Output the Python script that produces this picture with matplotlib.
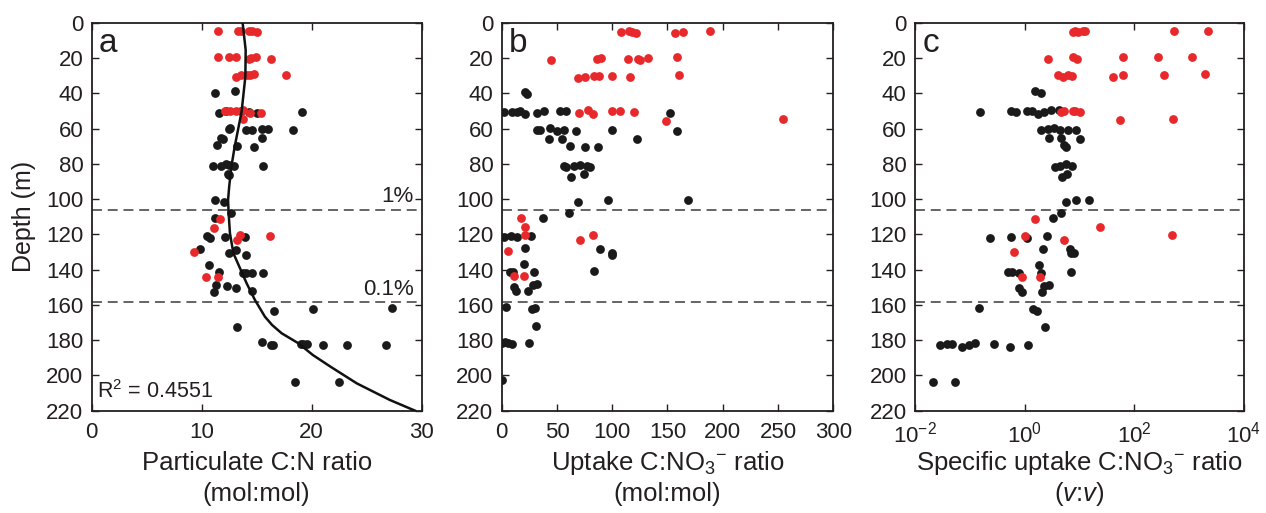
"""
Depth profiles of particulate C:N, uptake C:NO3- and specific uptake C:NO3-.
Three panels (a-c), red = euphotic samples, black = deeper samples.
"""

import matplotlib

matplotlib.use("Agg")
import matplotlib.pyplot as plt
import numpy as np

plt.rcParams["font.family"] = ["Liberation Sans", "DejaVu Sans"]
plt.rcParams["mathtext.fontset"] = "custom"
plt.rcParams["mathtext.rm"] = "Liberation Sans"
plt.rcParams["mathtext.it"] = "Liberation Sans:italic"
plt.rcParams["mathtext.sf"] = "Liberation Sans"

RED = "#e8292b"
BLACK = "#1a1a1a"
INK = "#231f20"

# --- panel a: particulate C:N -------------------------------------------------
a_black_x = [11.2, 13.0,
             11.6, 12.2, 13.6, 14.3, 15.0, 19.1,
             12.5, 12.6, 14.0, 14.6, 15.5, 16.0, 18.3,
             11.75, 11.9, 11.4, 13.2, 14.75, 15.5,
             11.0, 11.75, 12.2, 12.5, 12.9, 15.6, 12.4, 12.5,
             11.2, 12.0,
             12.7, 11.2, 10.45, 10.8, 12.1, 13.96,
             9.85, 12.5, 13.1, 14.0, 10.7, 11.6,
             13.8, 14.0, 14.6, 15.6,
             11.3, 11.1, 12.3, 13.1, 14.6,
             16.6, 20.1, 27.3, 13.2,
             15.5, 16.3, 16.5, 19.0, 19.2, 19.6, 21.0, 23.2, 26.8,
             18.45, 22.45]
a_black_z = [39.7, 38.7,
             51.4, 50.0, 50.0, 50.5, 51.0, 50.8,
             60.4, 59.5, 61.0, 61.0, 60.5, 60.5, 61.0,
             65.4, 65.8, 69.5, 70.0, 70.6, 65.4,
             81.0, 81.0, 80.0, 80.8, 81.0, 81.2, 85.6, 86.3,
             100.7, 101.9,
             108.0, 110.7, 120.9, 122.0, 121.6, 121.5,
             128.3, 130.7, 128.8, 131.8, 137.4, 141.3,
             141.7, 141.7, 141.7, 141.7,
             149.0, 152.8, 149.4, 150.6, 152.4,
             163.4, 162.5, 161.8, 172.7,
             180.8, 182.7, 182.9, 182.4, 182.0, 182.4, 182.7, 182.7, 182.7,
             203.5, 203.5]
a_red_x = [11.5, 13.3, 13.6, 14.3, 14.6, 15.0,
           11.45, 12.45, 13.1, 14.3, 14.5, 14.9, 16.3,
           13.1, 13.6, 14.1, 14.4, 14.75, 17.7,
           12.1, 12.6, 13.1, 13.8, 14.4, 15.4, 13.8,
           11.7, 11.1, 13.45, 13.2, 16.2, 9.33, 10.4, 11.5]
a_red_z = [4.5, 5.0, 5.0, 4.5, 4.8, 5.5,
           19.7, 19.3, 19.5, 20.5, 20.2, 19.2, 20.6,
           30.6, 29.8, 29.8, 29.6, 29.0, 29.6,
           50.1, 49.9, 50.1, 49.6, 51.0, 51.4, 54.8,
           111.3, 116.2, 120.5, 123.2, 120.9, 129.8, 144.0, 144.0]

# fitted curve
fit_z = [0, 15.5, 30.6, 50.4, 70.3, 81.6, 93, 100.5, 108, 119.4, 130.7, 138.3,
         147.8, 157.2, 166.7, 171.4, 176.1, 181.8, 188.4, 195, 204.5, 213.9, 220]
fit_x = [13.72, 14.0, 13.97, 13.63, 13.0, 12.7, 12.5, 12.4, 12.45, 12.57, 12.88, 13.42,
         14.09, 14.84, 15.75, 16.4, 17.27, 18.8, 20.1, 21.7, 24.1, 27.1, 29.4]
R2_TEXT = r"R$^2$ = 0.4551"

# --- panel b: uptake C:NO3- --------------------------------------------------
b_black_x = [21.1, 22.9,
             2.1, 9.0, 13.9, 16.3, 21.1, 31.7, 38.6, 52.8, 57.9, 152.3,
             31.7, 34.7, 43.7, 49.8, 56.4, 67.5, 99.5, 158.6,
             43.1, 54.9, 122.2, 61.8, 75.4, 87.4,
             56.4, 57.9, 65.2, 70.9, 77.2, 80.2, 63.0, 74.8,
             68.8, 95.9, 168.6,
             37.4, 60.6, 2.4, 8.1, 13.9, 26.8,
             21.4, 89.3, 99.5, 100.1, 19.9, 7.5, 10.5, 29.2, 83.3,
             10.9, 13.3, 23.5, 28.6, 31.9,
             3.9, 27.7, 29.8, 30.8,
             0.5, 3.0, 6.0, 9.6, 24.7, 0.5]
b_black_z = [39.5, 40.3,
             50.8, 50.6, 50.8, 50.0, 52.0, 51.0, 49.8, 50.3, 50.0, 51.0,
             60.8, 60.8, 59.7, 61.6, 61.0, 61.4, 60.8, 61.4,
             65.8, 65.8, 66.2, 69.7, 70.3, 70.7,
             81.0, 81.6, 81.0, 80.5, 81.0, 81.6, 87.6, 85.8,
             101.6, 100.5, 100.5,
             110.5, 107.7, 121.4, 121.2, 121.4, 120.7,
             128.0, 128.2, 130.8, 131.6, 136.8, 141.2, 141.4, 141.4, 141.0,
             150.0, 152.1, 152.1, 149.0, 148.1,
             161.2, 162.5, 161.5, 171.8,
             181.8, 181.0, 181.4, 182.3, 181.8, 202.6]
b_red_x = [108.0, 115.5, 117.6, 121.5, 157.0, 163.8, 188.5,
           44.6, 86.5, 89.8, 114.6, 123.6, 124.8, 132.7, 158.9,
           69.3, 75.4, 83.8, 87.8, 99.8, 116.1, 160.2,
           70.0, 78.4, 82.3, 99.5, 106.8, 120.0, 148.4, 254.9,
           17.5, 20.8, 21.4, 6.0, 71.2, 82.6, 10.7, 19.9]
b_red_z = [5.1, 4.8, 5.4, 6.0, 5.8, 5.4, 5.0,
           21.1, 20.6, 19.8, 20.8, 20.8, 21.1, 20.2, 19.6,
           31.3, 30.6, 30.4, 30.1, 30.2, 30.6, 29.5,
           51.0, 49.7, 51.6, 50.3, 50.3, 50.8, 55.6, 54.8,
           110.9, 115.6, 120.5, 129.3, 123.2, 120.4, 143.4, 143.4]

# --- panel c: specific uptake C:NO3- (log axis) -------------------------------
c_black_x = [1.55, 1.95,
             0.155, 0.56, 0.69, 1.10, 1.38, 1.74, 2.29, 3.02, 4.17,
             1.95, 2.69, 3.39, 4.37, 6.31, 8.71,
             2.75, 4.57, 10.2, 5.13, 5.62,
             3.63, 4.37, 5.62, 7.24, 4.90, 6.03,
             5.62, 8.51, 14.8,
             4.68, 3.24,
             0.229, 0.56, 1.12, 2.51,
             2.14, 6.61, 7.08, 7.94,
             1.82, 0.50, 0.59, 0.79, 1.95, 7.08,
             0.79, 0.89, 2.04, 2.29, 2.82,
             0.145, 1.41, 1.66, 2.34,
             0.029, 0.039, 0.048, 0.072, 0.095, 0.126, 0.275, 0.54, 1.15,
             0.021, 0.054]
c_black_z = [38.7, 39.7,
             50.8, 50.3, 50.6, 50.0, 50.3, 51.6, 50.6, 49.4, 49.6,
             60.8, 60.3, 59.7, 60.8, 60.6, 61.0,
             65.6, 65.6, 66.0, 69.4, 70.7,
             81.6, 81.0, 80.0, 81.2, 87.6, 85.8,
             101.6, 100.5, 100.5,
             108.0, 110.5,
             122.0, 121.5, 121.8, 120.9,
             128.3, 128.3, 130.8, 130.8,
             137.4, 141.5, 141.5, 142.0, 141.7, 141.5,
             150.6, 152.5, 152.5, 149.4, 149.0,
             161.7, 162.5, 163.4, 172.7,
             182.7, 182.3, 182.3, 183.6, 182.7, 181.6, 182.0, 183.6, 182.7,
             203.7, 203.5]
c_red_x = [7.6, 8.3, 9.5, 11.7, 12.6, 525, 2190,
           2.69, 7.6, 8.9, 61.7, 275, 1120,
           4.07, 5.0, 6.17, 7.41, 40.7, 63.1, 347, 1950,
           4.57, 5.25, 7.6, 8.3, 10.2, 55, 500,
           1.55, 24, 479, 1.0, 5.25, 0.63, 0.91, 1.91]
c_red_z = [5.1, 4.8, 5.1, 4.8, 4.5, 4.5, 4.5,
           20.6, 19.6, 20.5, 19.3, 19.3, 19.3,
           29.8, 30.6, 29.8, 30.0, 30.8, 29.5, 29.7, 28.9,
           50.8, 49.8, 50.1, 50.3, 50.6, 55.2, 54.6,
           111.3, 116.0, 120.5, 120.9, 123.3, 129.8, 144.0, 144.0]

# light-level isolumes (depth, m)
ISO_1PCT = 106.0
ISO_01PCT = 158.5

DEPTH_TICKS = list(range(0, 221, 20))
X_LABEL_TOP = ["Particulate C:N ratio",
               "Uptake C:NO$_3$$^{-}$ ratio",
               "Specific uptake C:NO$_3$$^{-}$ ratio"]
X_LABEL_BOTTOM = ["(mol:mol)", "(mol:mol)", "($\\mathit{v}$:$\\mathit{v}$)"]
PANEL_LETTERS = ["a", "b", "c"]


def _style(ax, letter, top, bottom):
    ax.set_ylim(220, 0)
    ax.set_yticks(DEPTH_TICKS)
    ax.tick_params(direction="in", top=True, right=True, length=5, width=1.0,
                   labelsize=16, colors=INK)
    ax.tick_params(axis="y", pad=6)
    ax.tick_params(axis="x", pad=8)
    ax.tick_params(which="minor", top=False, bottom=False, left=False, right=False)
    for s in ax.spines.values():
        s.set_linewidth(1.3)
        s.set_color(INK)
    for z in (ISO_1PCT, ISO_01PCT):
        ax.axhline(z, color="#3a3a3a", lw=1.1, dashes=(6.5, 3.8), zorder=1)
    ax.text(0.022, 0.985, letter, transform=ax.transAxes, fontsize=24,
            ha="left", va="top", color=INK)
    # two-line axis label, placed line by line so the baselines line up
    ax.text(0.5, -0.153, top, transform=ax.transAxes, fontsize=18.5,
            ha="center", va="baseline", color=INK)
    ax.text(0.5, -0.232, bottom, transform=ax.transAxes, fontsize=18.5,
            ha="center", va="baseline", color=INK)


def main() -> None:
    fig = plt.figure(figsize=(12.66, 5.13), dpi=100)
    axs = [fig.add_axes([0.0724, 0.1994, 0.2607, 0.7564]),
           fig.add_axes([0.3963, 0.1994, 0.2619, 0.7564]),
           fig.add_axes([0.7227, 0.1994, 0.2599, 0.7564])]

    ms = 40
    # a
    ax = axs[0]
    ax.scatter(a_black_x, a_black_z, s=ms, color=BLACK, lw=0, zorder=3)
    ax.scatter(a_red_x, a_red_z, s=ms, color=RED, lw=0, zorder=4)
    ax.plot(fit_x, fit_z, color="#111111", lw=1.8, zorder=5)
    ax.set_xlim(0, 30)
    ax.set_xticks([0, 10, 20, 30])
    ax.text(0.015, 0.02, R2_TEXT, transform=ax.transAxes, fontsize=15.5,
            ha="left", va="bottom", color=INK)
    ax.text(0.975, ISO_1PCT - 1.5, "1%", transform=ax.get_yaxis_transform(),
            fontsize=16, ha="right", va="bottom", color=INK)
    ax.text(0.975, ISO_01PCT - 1.5, "0.1%", transform=ax.get_yaxis_transform(),
            fontsize=16, ha="right", va="bottom", color=INK)
    ax.set_ylabel("Depth (m)", fontsize=18, labelpad=7, color=INK)

    # b
    ax = axs[1]
    ax.scatter(b_black_x, b_black_z, s=ms, color=BLACK, lw=0, zorder=3)
    ax.scatter(b_red_x, b_red_z, s=ms, color=RED, lw=0, zorder=4)
    ax.set_xlim(0, 300)
    ax.set_xticks([0, 50, 100, 150, 200, 250, 300])

    # c
    ax = axs[2]
    ax.scatter(c_black_x, c_black_z, s=ms, color=BLACK, lw=0, zorder=3)
    ax.scatter(c_red_x, c_red_z, s=ms, color=RED, lw=0, zorder=4)
    ax.set_xscale("log")
    ax.set_xlim(1e-2, 1e4)
    ax.set_xticks([1e-2, 1e0, 1e2, 1e4])

    for ax, letter, top, bottom in zip(axs, PANEL_LETTERS, X_LABEL_TOP, X_LABEL_BOTTOM):
        _style(ax, letter, top, bottom)

    fig.savefig("out.png", dpi=100)
    plt.close(fig)


if __name__ == "__main__":
    main()
